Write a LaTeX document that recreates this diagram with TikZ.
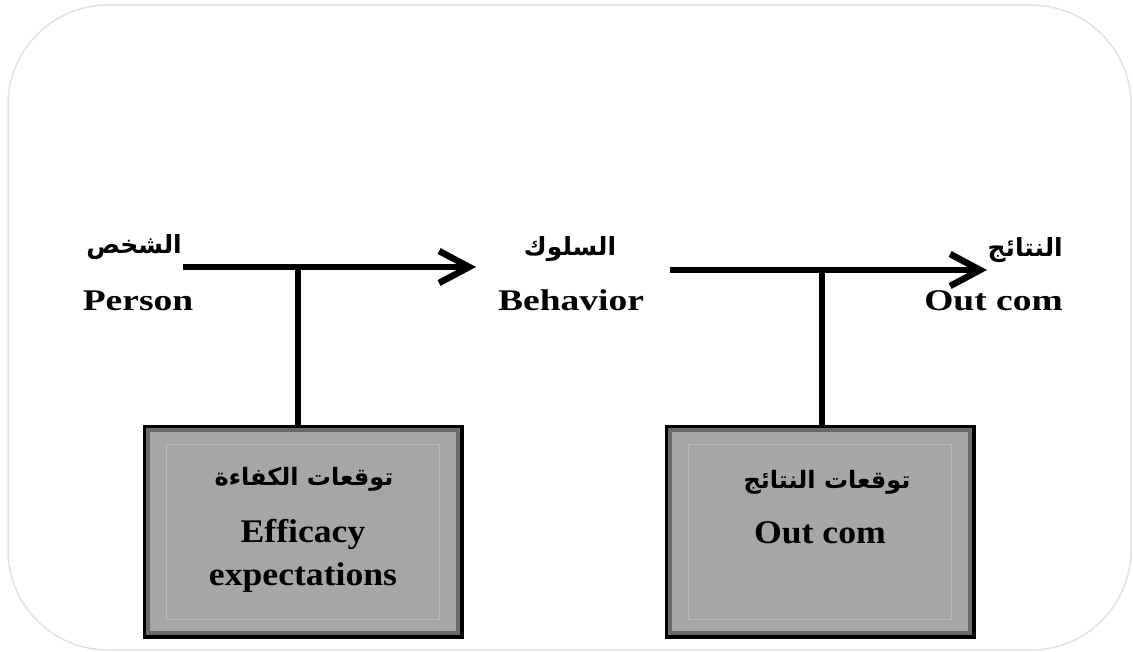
\documentclass[tikz,border=0pt]{standalone}
\usepackage{fontspec}
\usetikzlibrary{arrows.meta}
\TeXXeTstate=1
\newfontfamily\arabicfont[Script=Arabic]{DejaVu Sans}
\newfontfamily\labelfont{Liberation Serif}[FakeStretch=1.25]
\newfontfamily\boxfont{Liberation Serif}[FakeStretch=1.08]
\definecolor{boxfill}{HTML}{A6A6A6}
\definecolor{bandgray}{HTML}{6A6A6A}
\definecolor{innerline}{HTML}{B8B8B8}
\definecolor{frameline}{HTML}{E2E2E2}
\tikzset{
  flow/.style={line width=6.5pt, -{Straight Barb[length=30pt,width=32pt]}},
  stem/.style={line width=6pt},
  box/.style={draw=black, fill=boxfill, line width=7pt, minimum width=314pt, minimum height=207pt, inner sep=0pt},
  band/.style={draw=bandgray, line width=3.5pt},
  thinline/.style={draw=innerline, line width=0.8pt},
  artext/.style={font=\arabicfont\bfseries\fontsize{25}{29}\selectfont, inner sep=0pt},
  arbox/.style={font=\arabicfont\bfseries\fontsize{24}{28}\selectfont, inner sep=0pt},
  entext/.style={font=\labelfont\bfseries\fontsize{30}{34}\selectfont, inner sep=0pt},
  bxtext/.style={font=\boxfont\bfseries\fontsize{33}{38}\selectfont, inner sep=0pt},
}
\begin{document}
\begin{tikzpicture}[x=1pt, y=-1pt]
\useasboundingbox (0,0) rectangle (1133,652);
% outer frame
\draw[frameline, line width=1.5pt, rounded corners=100pt] (8,5) rectangle (1131,650);

% boxes
\node[box] (box1) at (303,531.5) {};
\node[box, minimum width=304pt] (box2) at (820,531.5) {};
\foreach \b in {box1,box2}{
  \draw[band] ([shift={(5.5pt,-5.5pt)}]\b.north west) rectangle ([shift={(-5.5pt,5.5pt)}]\b.south east);
  \draw[thinline] ([shift={(24pt,-19.5pt)}]\b.north west) rectangle ([shift={(-24pt,19.5pt)}]\b.south east);
}

% labels
\node[artext, anchor=east] (arPerson) at (182,247) {\beginR الشخص\endR};
\node[entext, anchor=base] (enPerson) at (138,311) {Person};
\node[artext] (arBehav) at (570,249) {\beginR السلوك\endR};
\node[entext, anchor=base] (enBehav) at (571,311) {Behavior};
\node[artext, anchor=east] (arOut) at (1063,250) {\beginR النتائج\endR};
\node[entext, anchor=base east] (enOut) at (1063,311) {Out com};

\node[arbox] (arEff) at (304,479) {\beginR توقعات الكفاءة\endR};
\node[bxtext, anchor=base] (enEff1) at (303,542) {Efficacy};
\node[bxtext, anchor=base] (enEff2) at (303,585) {expectations};
\node[arbox] (arOutExp) at (827,482) {\beginR توقعات النتائج\endR};
\node[bxtext, anchor=base] (enOutExp) at (820,543) {Out com};

% arrows
\coordinate (s1) at (183,267);
\coordinate (e1) at (476,267);
\coordinate (j1) at (298,267);
\coordinate (s2) at (670,270);
\coordinate (e2) at (987,270);
\coordinate (j2) at (822,270);
\draw[stem] (j1) -- (j1 |- box1.north);
\draw[stem] (j2) -- (j2 |- box2.north);
\draw[flow] (s1) -- (e1);
\draw[flow] (s2) -- (e2);
\end{tikzpicture}
\end{document}
